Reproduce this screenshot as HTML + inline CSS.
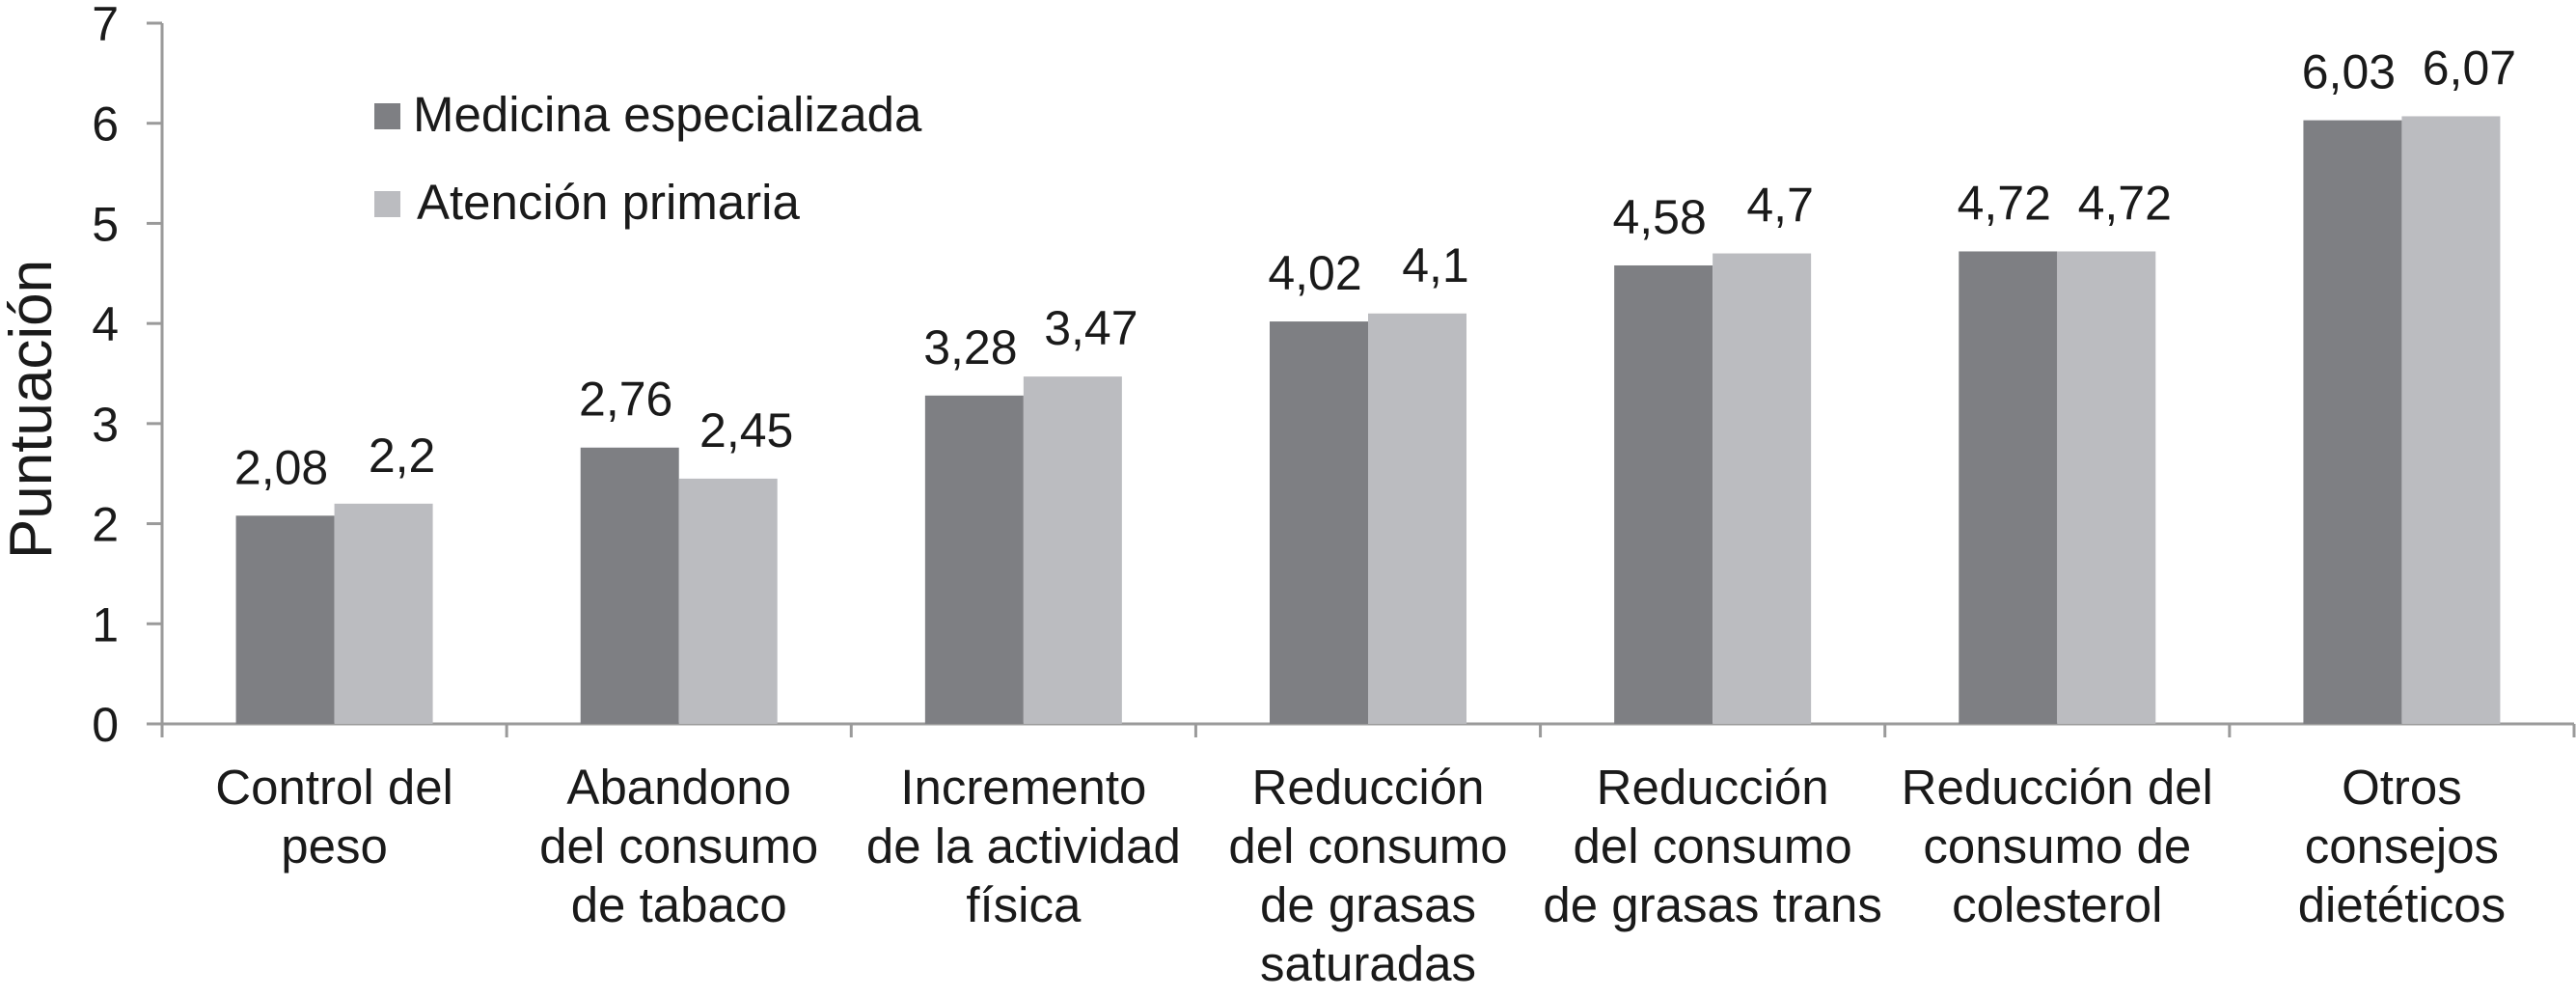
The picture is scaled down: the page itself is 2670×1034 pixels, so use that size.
<!DOCTYPE html>
<html><head><meta charset="utf-8"><style>
html,body{margin:0;padding:0;background:#fff;}
svg{display:block;font-family:"Liberation Sans",Arial,sans-serif;}
</style></head><body>
<svg id="chart" width="2670" height="1034" viewBox="0 0 2670 1034" xmlns="http://www.w3.org/2000/svg">
<g id="axes"></g>
<g id="bars"></g>
<g id="labels"></g>
<text transform="translate(53,424) rotate(-90)" text-anchor="middle" font-size="62" fill="#1a1a1a">Puntuación</text>
<g>
<rect x="388" y="107" width="27" height="27" fill="#7e7f83"/>
<text x="428" y="136" font-size="51" fill="#1a1a1a">Medicina especializada</text>
<rect x="388" y="198" width="27" height="27" fill="#bbbcc0"/>
<text x="432" y="227" font-size="51" fill="#1a1a1a">Atención primaria</text>
</g>
</svg>
<script>
const categories = [
  ["Control del","peso"],
  ["Abandono","del consumo","de tabaco"],
  ["Incremento","de la actividad","física"],
  ["Reducción","del consumo","de grasas","saturadas"],
  ["Reducción","del consumo","de grasas trans"],
  ["Reducción del","consumo de","colesterol"],
  ["Otros","consejos","dietéticos"]
];
const medicina = [2.08, 2.76, 3.28, 4.02, 4.58, 4.72, 6.03];
const atencion = [2.2, 2.45, 3.47, 4.1, 4.7, 4.72, 6.07];
const medicinaLabels = ["2,08","2,76","3,28","4,02","4,58","4,72","6,03"];
const atencionLabels = ["2,2","2,45","3,47","4,1","4,7","4,72","6,07"];
const yTicks = [0,1,2,3,4,5,6,7];

const NS = "http://www.w3.org/2000/svg";
const X0 = 168, X1 = 2668, Y0 = 750, Y7 = 24, YMAX = 7;
const catW = (X1 - X0) / categories.length;
const barW = 102;
function y(v){ return Y0 - (v / YMAX) * (Y0 - Y7); }
function xCat(i){ return X0 + catW * i; }
function mk(tag, attrs, parent){
  const e = document.createElementNS(NS, tag);
  for (const k in attrs) e.setAttribute(k, attrs[k]);
  parent.appendChild(e);
  return e;
}
const axes = document.getElementById('axes');
const bars = document.getElementById('bars');
const labels = document.getElementById('labels');
const axisColor = "#9a9a9a";

let l = mk('line', {x1:X0, y1:Y7, x2:X0, y2:Y0+14, stroke:axisColor, 'stroke-width':3}, axes);


l = mk('line', {x1:X0-16, y1:Y0, x2:X1, y2:Y0, stroke:axisColor, 'stroke-width':3}, axes);



yTicks.forEach(t => {
  const tk = mk('line', {x1:X0-16, y1:y(t), x2:X0, y2:y(t), stroke:axisColor, 'stroke-width':3}, axes);
  
  
  const tx = mk('text', {x:123, y:y(t)+18, 'text-anchor':'end', 'font-size':50, fill:'#1a1a1a'}, axes);
  
  
  tx.textContent = String(t);
});

categories.forEach((lines, i) => {
  const tk = mk('line', {x1:xCat(i+1), y1:Y0, x2:xCat(i+1), y2:Y0+14, stroke:axisColor, 'stroke-width':3}, axes);
  
  
  const cx = xCat(i) + catW/2;
  const tx = mk('text', {x:cx, y:833, 'text-anchor':'middle', 'font-size':51, fill:'#1a1a1a'}, axes);
  
  
  lines.forEach((s, j) => {
    const ts = mk('tspan', {x:cx, dy: j===0 ? 0 : 61}, tx);
    ts.textContent = s;
  });

  const r1 = mk('rect', {x:cx-barW, y:y(medicina[i]), width:barW, height:Y0-y(medicina[i]), fill:'#7e7f83'}, bars);
  
  
  const r2 = mk('rect', {x:cx, y:y(atencion[i]), width:barW, height:Y0-y(atencion[i]), fill:'#bbbcc0'}, bars);
  
  

  const v1 = mk('text', {x:cx-barW/2-4, y:y(medicina[i])-33, 'text-anchor':'middle', 'font-size':50, fill:'#1a1a1a'}, labels);
  
  
  v1.textContent = medicinaLabels[i];
  const v2 = mk('text', {x:cx+barW/2+19, y:y(atencion[i])-33, 'text-anchor':'middle', 'font-size':50, fill:'#1a1a1a'}, labels);
  
  
  v2.textContent = atencionLabels[i];
});
</script>
</body></html>
